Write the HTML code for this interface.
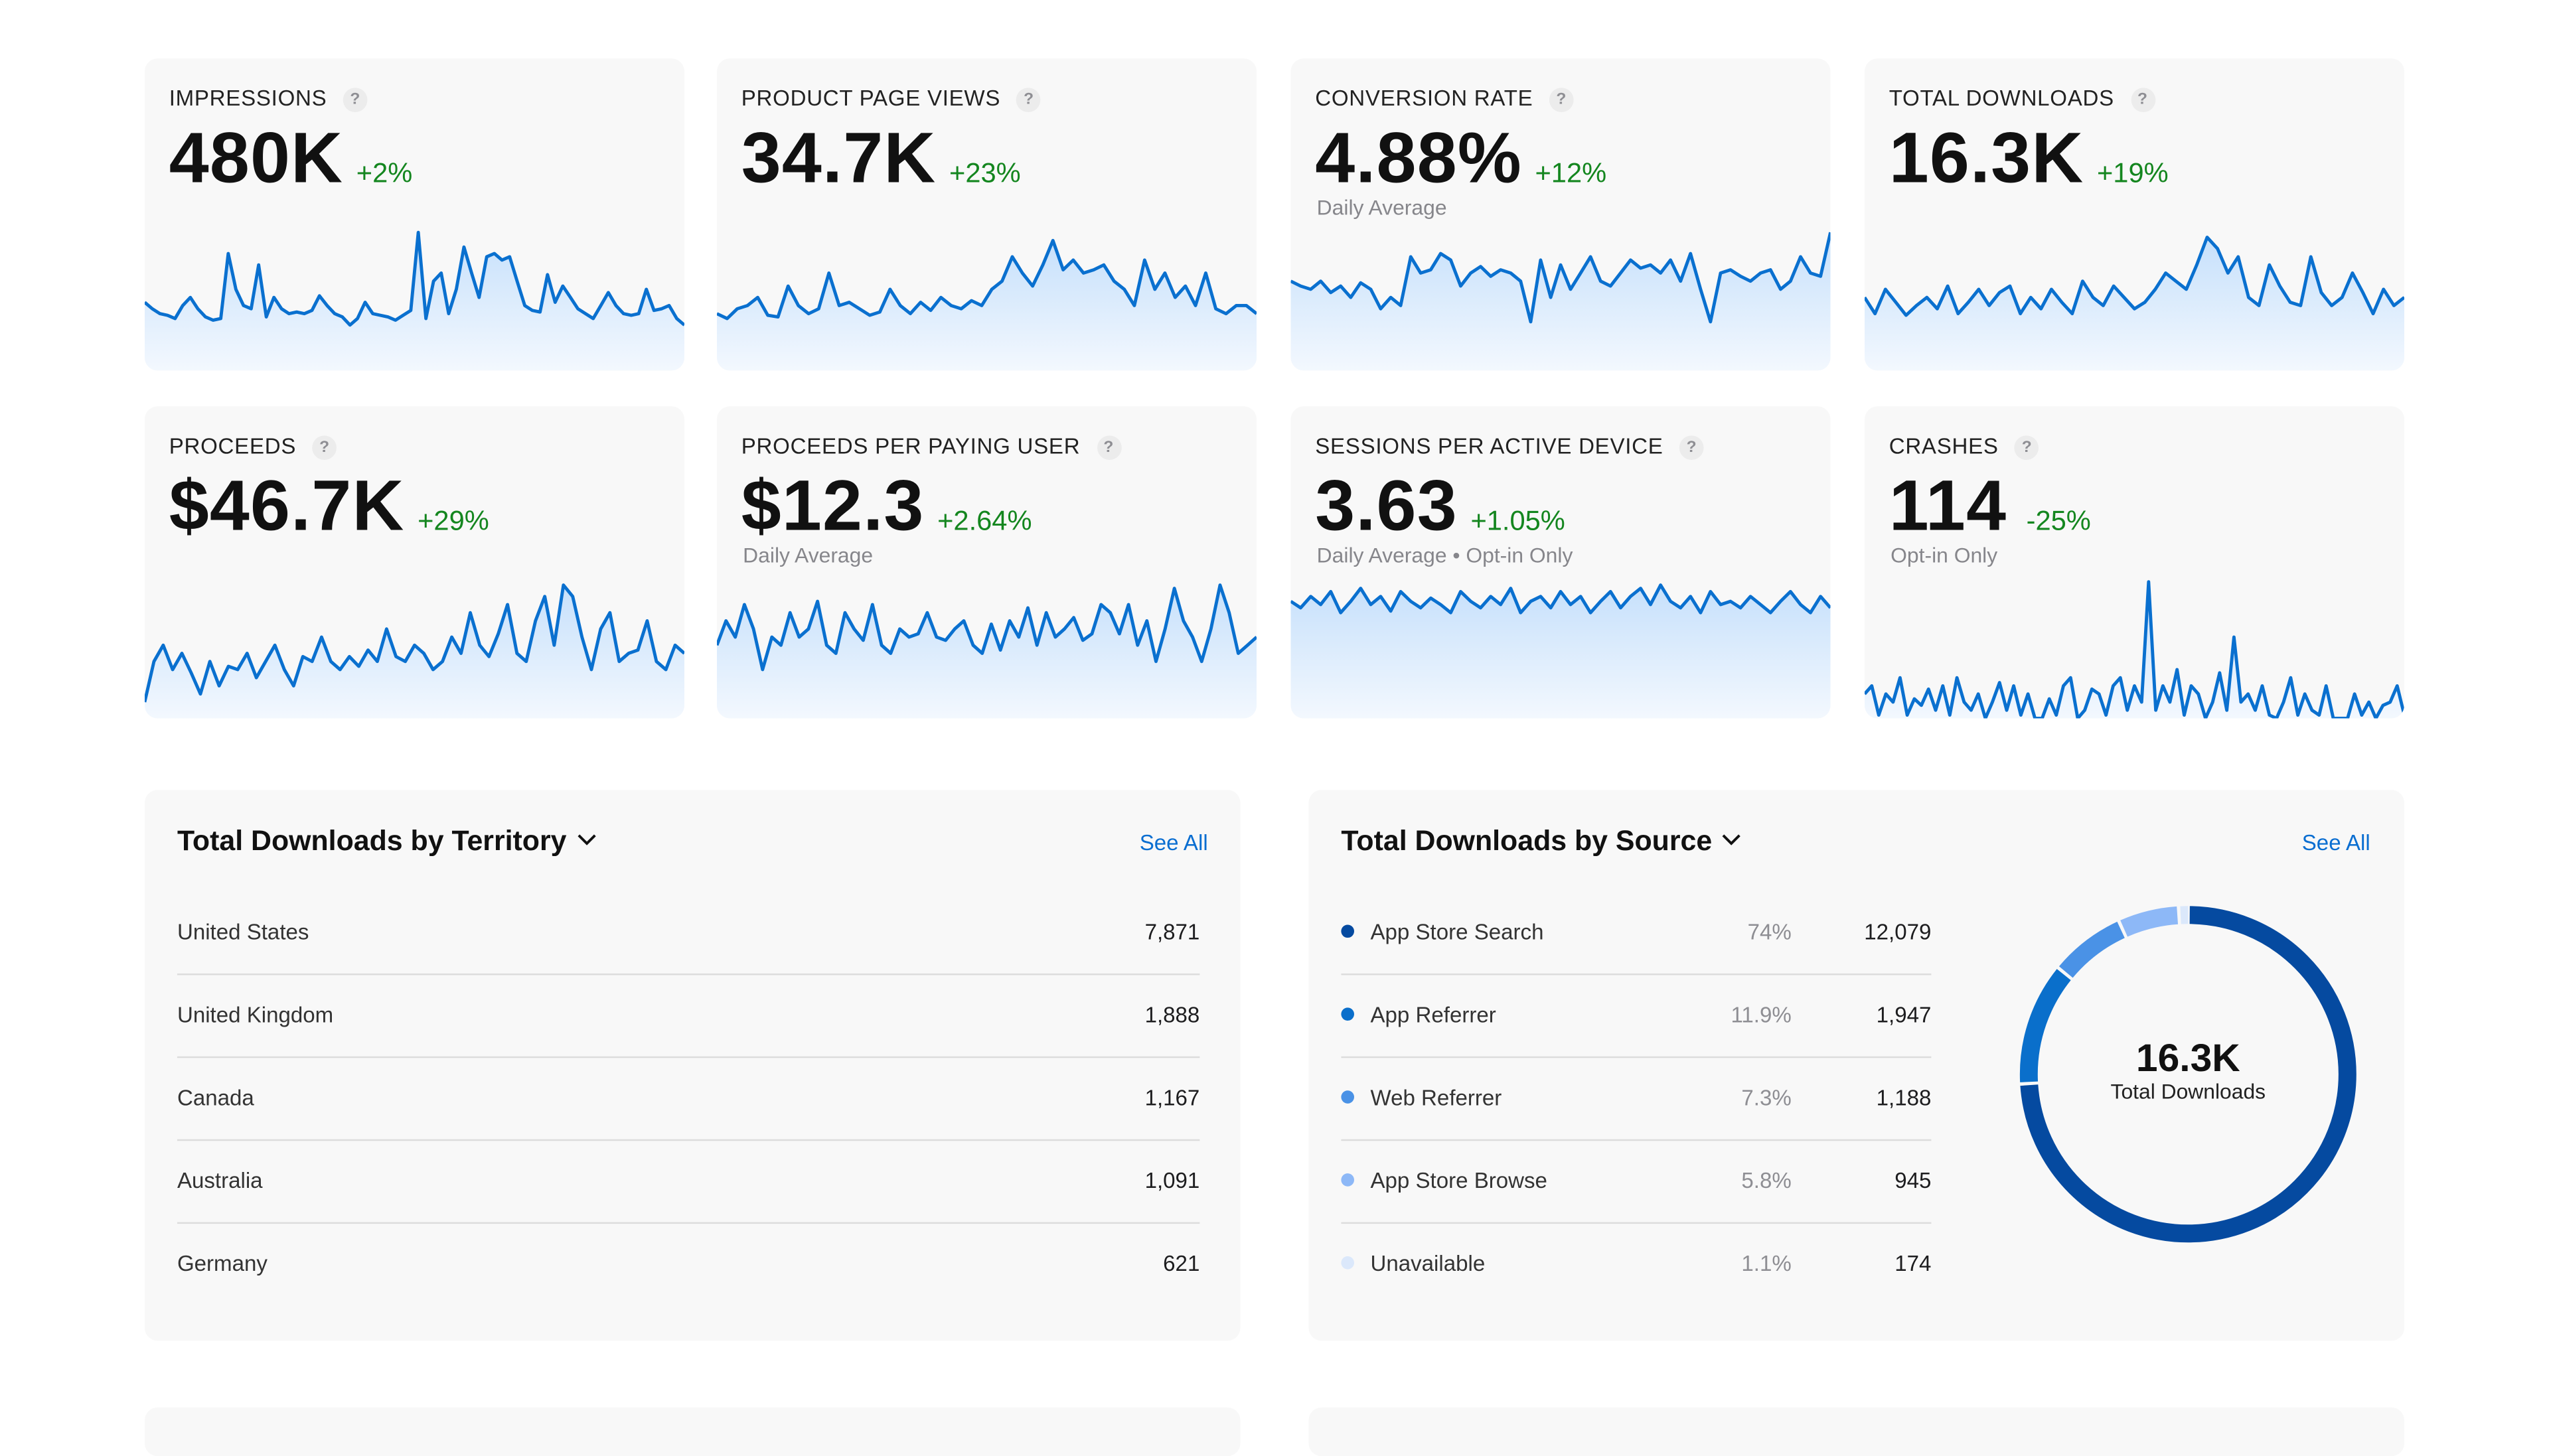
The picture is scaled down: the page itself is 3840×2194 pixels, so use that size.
<!DOCTYPE html>
<html><head><meta charset="utf-8">
<style>
html,body{margin:0;padding:0;background:#fff;width:3840px;height:2160px;overflow:hidden}
#w{position:absolute;left:0;top:0;width:1568px;height:882px;transform:scale(2.44898);transform-origin:0 0;font-family:"Liberation Sans",sans-serif;color:#1d1d1f}
.card{position:absolute;width:332px;height:192px;background:#f8f8f8;border-radius:8px;overflow:hidden}
.lbl{position:absolute;left:15px;top:17px;font-size:13.5px;font-weight:500;letter-spacing:0.3px;color:#222;white-space:nowrap}
.q{display:inline-block;width:15px;height:15px;border-radius:50%;background:#ececec;color:#8e8e93;font-size:10px;text-align:center;line-height:15px;margin-left:10px;vertical-align:1px;font-weight:bold}
.big{position:absolute;left:15px;top:37px;font-size:44px;font-weight:bold;color:#111;white-space:nowrap;letter-spacing:0.5px}
.chg{font-size:17px;font-weight:normal;color:#14861f;margin-left:8px;letter-spacing:0}
.sub{position:absolute;left:16px;top:84px;font-size:13px;color:#86868b;white-space:nowrap}
.card svg{position:absolute;left:0;top:0}
.panel{position:absolute;top:486px;width:674px;height:339px;background:#f8f8f8;border-radius:8px}
.pt{position:absolute;left:20px;top:21px;font-size:17.5px;font-weight:bold;color:#111;white-space:nowrap}
.chev{display:inline-block;vertical-align:2px;margin-left:6px}
.see{position:absolute;top:25px;font-size:13.5px;color:#0a6ed1}
.row{position:absolute;font-size:13.5px;color:#333;white-space:nowrap}
.div{position:absolute;height:1px;background:#dcdcdc}
.r{position:absolute;text-align:right;font-size:13.5px;white-space:nowrap}
.dot{position:absolute;width:8px;height:8px;border-radius:50%}
</style></head><body><div id="w">

<div class="card" style="left:89px;top:36px"><div class="lbl">IMPRESSIONS<span class="q">?</span></div><div class="big">480K<span class="chg">+2%</span></div></div>
<div class="card" style="left:441px;top:36px"><div class="lbl">PRODUCT PAGE VIEWS<span class="q">?</span></div><div class="big">34.7K<span class="chg">+23%</span></div></div>
<div class="card" style="left:794px;top:36px"><div class="lbl">CONVERSION RATE<span class="q">?</span></div><div class="big">4.88%<span class="chg">+12%</span></div><div class="sub">Daily Average</div></div>
<div class="card" style="left:1147px;top:36px"><div class="lbl">TOTAL DOWNLOADS<span class="q">?</span></div><div class="big">16.3K<span class="chg">+19%</span></div></div>

<div class="card" style="left:89px;top:250px"><div class="lbl">PROCEEDS<span class="q">?</span></div><div class="big">$46.7K<span class="chg">+29%</span></div></div>
<div class="card" style="left:441px;top:250px"><div class="lbl">PROCEEDS PER PAYING USER<span class="q">?</span></div><div class="big">$12.3<span class="chg">+2.64%</span></div><div class="sub">Daily Average</div></div>
<div class="card" style="left:794px;top:250px"><div class="lbl">SESSIONS PER ACTIVE DEVICE<span class="q">?</span></div><div class="big">3.63<span class="chg">+1.05%</span></div><div class="sub">Daily Average &#8226; Opt-in Only</div></div>
<div class="card" style="left:1147px;top:250px"><div class="lbl">CRASHES<span class="q">?</span></div><div class="big">114<span class="chg" style="margin-left:12px">-25%</span></div><div class="sub">Opt-in Only</div></div>

<div class="panel" style="left:89px">
<div class="pt">Total Downloads by Territory<svg class="chev" width="12" height="8" viewBox="0 0 12 8"><polyline points="1,1 6,6 11,1" fill="none" stroke="#111" stroke-width="1.6"/></svg></div>
<div class="see" style="left:612px">See All</div>
<div class="row" style="left:20px;top:80px">United States</div><div class="r" style="right:25px;top:80px">7,871</div>
<div class="div" style="left:20px;width:629px;top:113px"></div>
<div class="row" style="left:20px;top:131px">United Kingdom</div><div class="r" style="right:25px;top:131px">1,888</div>
<div class="div" style="left:20px;width:629px;top:164px"></div>
<div class="row" style="left:20px;top:182px">Canada</div><div class="r" style="right:25px;top:182px">1,167</div>
<div class="div" style="left:20px;width:629px;top:215px"></div>
<div class="row" style="left:20px;top:233px">Australia</div><div class="r" style="right:25px;top:233px">1,091</div>
<div class="div" style="left:20px;width:629px;top:266px"></div>
<div class="row" style="left:20px;top:284px">Germany</div><div class="r" style="right:25px;top:284px">621</div>
</div>

<div class="panel" style="left:805px">
<div class="pt">Total Downloads by Source<svg class="chev" width="12" height="8" viewBox="0 0 12 8"><polyline points="1,1 6,6 11,1" fill="none" stroke="#111" stroke-width="1.6"/></svg></div>
<div class="see" style="left:611px">See All</div>
<div class="dot" style="left:20px;top:83px;background:#054aa0"></div><div class="row" style="left:38px;top:80px">App Store Search</div><div class="r" style="right:377px;top:80px;color:#8e8e93">74%</div><div class="r" style="right:291px;top:80px">12,079</div>
<div class="div" style="left:20px;width:363px;top:113px"></div>
<div class="dot" style="left:20px;top:134px;background:#0a6fcb"></div><div class="row" style="left:38px;top:131px">App Referrer</div><div class="r" style="right:377px;top:131px;color:#8e8e93">11.9%</div><div class="r" style="right:291px;top:131px">1,947</div>
<div class="div" style="left:20px;width:363px;top:164px"></div>
<div class="dot" style="left:20px;top:185px;background:#4a92e6"></div><div class="row" style="left:38px;top:182px">Web Referrer</div><div class="r" style="right:377px;top:182px;color:#8e8e93">7.3%</div><div class="r" style="right:291px;top:182px">1,188</div>
<div class="div" style="left:20px;width:363px;top:215px"></div>
<div class="dot" style="left:20px;top:236px;background:#8db8f7"></div><div class="row" style="left:38px;top:233px">App Store Browse</div><div class="r" style="right:377px;top:233px;color:#8e8e93">5.8%</div><div class="r" style="right:291px;top:233px">945</div>
<div class="div" style="left:20px;width:363px;top:266px"></div>
<div class="dot" style="left:20px;top:287px;background:#dbe8fb"></div><div class="row" style="left:38px;top:284px">Unavailable</div><div class="r" style="right:377px;top:284px;color:#8e8e93">1.1%</div><div class="r" style="right:291px;top:284px">174</div>
<svg style="position:absolute;left:436px;top:70px" width="210" height="210" viewBox="0 0 210 210">
<g transform="rotate(-90 105 105)" fill="none" stroke-width="11">
<circle cx="105" cy="105" r="98" stroke="#054aa0" stroke-dasharray="454 1000" stroke-dashoffset="-1"/>
<circle cx="105" cy="105" r="98" stroke="#0a6fcb" stroke-dasharray="71 1000" stroke-dashoffset="-457"/>
<circle cx="105" cy="105" r="98" stroke="#4a92e6" stroke-dasharray="43 1000" stroke-dashoffset="-530"/>
<circle cx="105" cy="105" r="98" stroke="#8db8f7" stroke-dasharray="34 1000" stroke-dashoffset="-575"/>
<circle cx="105" cy="105" r="98" stroke="#dbe8fb" stroke-dasharray="5 1000" stroke-dashoffset="-611"/>
</g>
<text x="105" y="103" text-anchor="middle" font-size="24" font-weight="bold" fill="#111" font-family="Liberation Sans,sans-serif">16.3K</text>
<text x="105" y="120" text-anchor="middle" font-size="13" fill="#222" font-family="Liberation Sans,sans-serif">Total Downloads</text>
</svg>
</div>

<div style="position:absolute;left:89px;top:866px;width:674px;height:30px;background:#f8f8f8;border-radius:8px"></div>
<div style="position:absolute;left:805px;top:866px;width:674px;height:30px;background:#f8f8f8;border-radius:8px"></div>
</div>
<script>
var D=[
[48,52,55,56,58,50,45,52,57,59,58,18,40,50,52,25,57,45,52,55,54,55,53,44,50,55,57,62,58,48,55,56,57,59,56,53,5,58,35,30,55,40,14,30,45,20,18,22,20,35,50,53,54,31,48,38,45,52,55,58,50,42,50,55,56,55,40,53,52,50,58,62],
[55,58,52,50,45,56,57,38,50,55,52,30,50,48,52,56,54,40,50,55,48,53,45,50,52,47,50,40,35,20,30,38,25,10,28,22,30,28,25,35,40,50,22,40,30,45,38,50,30,52,55,50,50,55],
[35,38,40,35,42,38,45,36,40,52,45,50,20,30,28,18,22,38,30,26,32,28,30,35,60,22,45,25,40,30,20,35,38,30,22,27,25,30,22,35,18,40,60,30,28,32,35,30,28,40,35,20,30,32,5],
[45,55,40,48,56,50,45,52,38,55,48,40,50,42,38,55,45,52,40,48,55,35,45,50,38,45,52,48,40,30,35,40,25,8,15,30,20,45,50,25,38,48,50,20,42,50,45,30,42,55,40,50,45],
[80,55,45,60,50,62,75,55,70,58,60,50,65,55,45,60,70,52,55,40,55,60,52,58,48,55,35,52,55,45,50,60,55,40,50,25,45,52,38,20,50,55,30,15,45,8,15,40,60,35,25,55,50,48,30,55,60,45,50],
[45,30,40,20,35,60,40,45,25,40,35,18,45,50,25,35,42,20,45,50,35,40,38,25,40,42,35,30,45,50,32,48,30,40,22,45,25,40,35,28,42,38,20,25,38,20,45,30,55,35,10,30,40,55,35,8,25,50,45,40],
[18,22,15,20,12,25,18,10,20,15,24,12,18,22,16,20,25,12,18,22,15,20,10,25,18,15,22,12,20,15,25,18,12,22,15,10,20,8,18,22,15,25,12,20,18,22,15,20,25,18,12,20,25,15,22],
[75,70,88,75,80,65,88,78,82,72,85,70,88,65,80,85,75,90,80,68,85,70,88,75,90,90,78,88,70,65,90,85,72,75,88,70,65,85,70,80,6,85,70,80,60,88,70,75,90,80,62,85,40,80,75,85,70,88,90,80,65,88,75,85,88,70,90,90,90,75,88,80,90,82,80,70,88]];
var cards=document.querySelectorAll('.card');
cards.forEach(function(c,i){
 var a=D[i],n=a.length,top=102,p='';
 for(var k=0;k<n;k++){p+=(k?'L':'M')+(k*332/(n-1)).toFixed(1)+','+(top+a[k]).toFixed(1);}
 var ns='http://www.w3.org/2000/svg';
 var s=document.createElementNS(ns,'svg');s.setAttribute('width',332);s.setAttribute('height',192);
 s.innerHTML='<defs><linearGradient id="g'+i+'" x1="0" y1="0" x2="0" y2="1"><stop offset="0" stop-color="#c6e0fb"/><stop offset="1" stop-color="#f3f8fe"/></linearGradient></defs>'+
 '<path d="'+p+'L332,192L0,192Z" fill="url(#g'+i+')"/><path d="'+p+'" fill="none" stroke="#0a70cf" stroke-width="2" stroke-linejoin="round"/>';
 c.insertBefore(s,c.firstChild);
});
</script>
</body></html>
